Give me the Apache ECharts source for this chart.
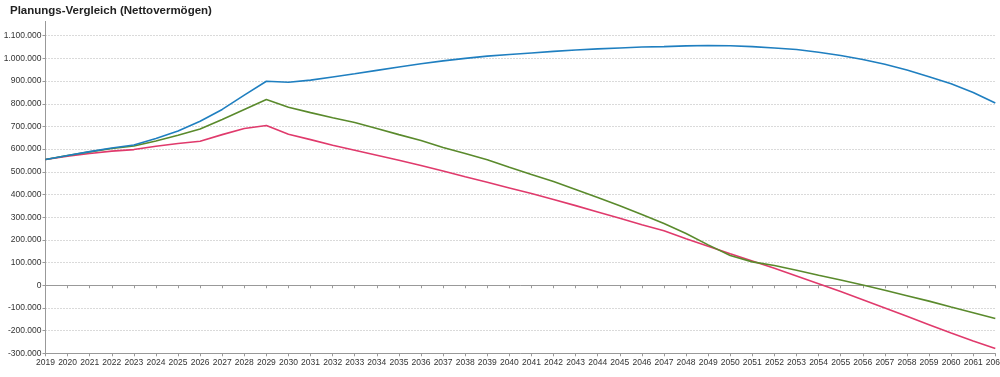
<!DOCTYPE html>
<html>
<head>
<meta charset="utf-8">
<script src="https://cdn.jsdelivr.net/npm/echarts@6/dist/echarts.min.js"></script>
<style>
  html, body { margin: 0; padding: 0; background: #fff; }
  #chart { width: 1000px; height: 377px; }
</style>
</head>
<body>
<div id="chart"></div>
<script>
// Jahre auf der x-Achse
const years = [];
for (let y = 2019; y <= 2062; y++) years.push(String(y));

// Nettovermögen je Planung
const planBlue = [
  554000, 572000, 589000, 605000, 618000, 647000, 680000, 723000, 775000, 838000,
  899000, 895000, 904000, 918000, 932000, 947000, 962000, 976000, 989000, 1000000,
  1010000, 1017000, 1024000, 1031000, 1037000, 1042000, 1046000, 1050000, 1052000, 1055000,
  1057000, 1056000, 1052000, 1046000, 1039000, 1027000, 1013000, 995000, 974000, 949000,
  919000, 888000, 850000, 803000
];
const planGreen = [
  554000, 572000, 588000, 603000, 614000, 636000, 661000, 689000, 731000, 775000,
  819000, 785000, 761000, 738000, 717000, 691000, 664000, 638000, 607000, 581000,
  553000, 520000, 488000, 457000, 422000, 387000, 350000, 312000, 272000, 228000,
  178000, 131000, 103000, 87000, 66000, 44000, 23000, 1000, -22000, -46000,
  -70000, -96000, -121000, -147000
];
const planRed = [
  554000, 569000, 581000, 591000, 598000, 613000, 625000, 635000, 664000, 691000,
  704000, 666000, 642000, 617000, 595000, 573000, 551000, 528000, 504000, 478000,
  454000, 429000, 404000, 378000, 351000, 323000, 295000, 267000, 240000, 205000,
  172000, 139000, 107000, 75000, 41000, 7000, -28000, -64000, -100000, -137000,
  -174000, -211000, -246000, -279000
];

// Achsenbereich
const yMin = -300000;
const yMax = 1100000;
const yStep = 100000;

// deutsches Zahlenformat: 1.100.000
function fmt(v) {
  const s = String(Math.abs(v)).replace(/\B(?=(\d{3})+(?!\d))/g, '.');
  return v < 0 ? '-' + s : s;
}

const chart = echarts.init(document.getElementById('chart'));

chart.setOption({
  animation: false,
  backgroundColor: '#fff',
  textStyle: { fontFamily: 'Liberation Sans, Arial, sans-serif' },
  title: {
    text: 'Planungs-Vergleich (Nettovermögen)',
    left: 5,
    top: 0,
    textStyle: { fontSize: 11.5, fontWeight: 'bold', color: '#222', fontFamily: 'Liberation Sans, Arial, sans-serif' }
  },
  grid: { left: 45.5, right: 4.7, top: 35.7, bottom: 23.7, outerBoundsMode: 'none' },
  xAxis: [
    {
      type: 'category',
      data: years,
      boundaryGap: false,
      axisLine: { onZero: false, lineStyle: { color: '#999' } },
      axisTick: { length: 3, interval: 0, lineStyle: { color: '#999' } },
      axisLabel: { interval: 0, fontSize: 8.5, color: '#333', margin: 5 },
      splitLine: { show: false }
    },
    {
      // Null-Linie mit Teilstrichen
      type: 'category',
      data: years,
      boundaryGap: false,
      position: 'bottom',
      axisLine: { onZero: true, lineStyle: { color: '#999' } },
      axisTick: { length: 3, interval: 0, lineStyle: { color: '#999' } },
      axisLabel: { show: false },
      splitLine: { show: false }
    }
  ],
  yAxis: {
    type: 'value',
    min: yMin,
    max: yMax,
    interval: yStep,
    axisLine: { show: true, lineStyle: { color: '#999' } },
    axisTick: { show: true, length: 3, lineStyle: { color: '#999' } },
    axisLabel: { fontSize: 8.5, color: '#333', margin: 4, formatter: fmt },
    splitLine: { lineStyle: { color: '#b4b4b4', type: [1, 2] } }
  },
  graphic: [
    {
      // Achse ragt oben etwas über 1.100.000 hinaus
      type: 'line',
      shape: { x1: 45.5, y1: 21, x2: 45.5, y2: 36 },
      style: { stroke: '#999', lineWidth: 1 }
    }
  ],
  series: [
    {
      type: 'line',
      data: planRed,
      showSymbol: false,
      lineStyle: { color: '#e03a6c', width: 1.6 },
      itemStyle: { color: '#e03a6c' }
    },
    {
      type: 'line',
      data: planGreen,
      showSymbol: false,
      lineStyle: { color: '#5a8a2c', width: 1.6 },
      itemStyle: { color: '#5a8a2c' }
    },
    {
      type: 'line',
      data: planBlue,
      showSymbol: false,
      lineStyle: { color: '#1f7fc0', width: 1.6 },
      itemStyle: { color: '#1f7fc0' }
    }
  ]
});
</script>
</body>
</html>
